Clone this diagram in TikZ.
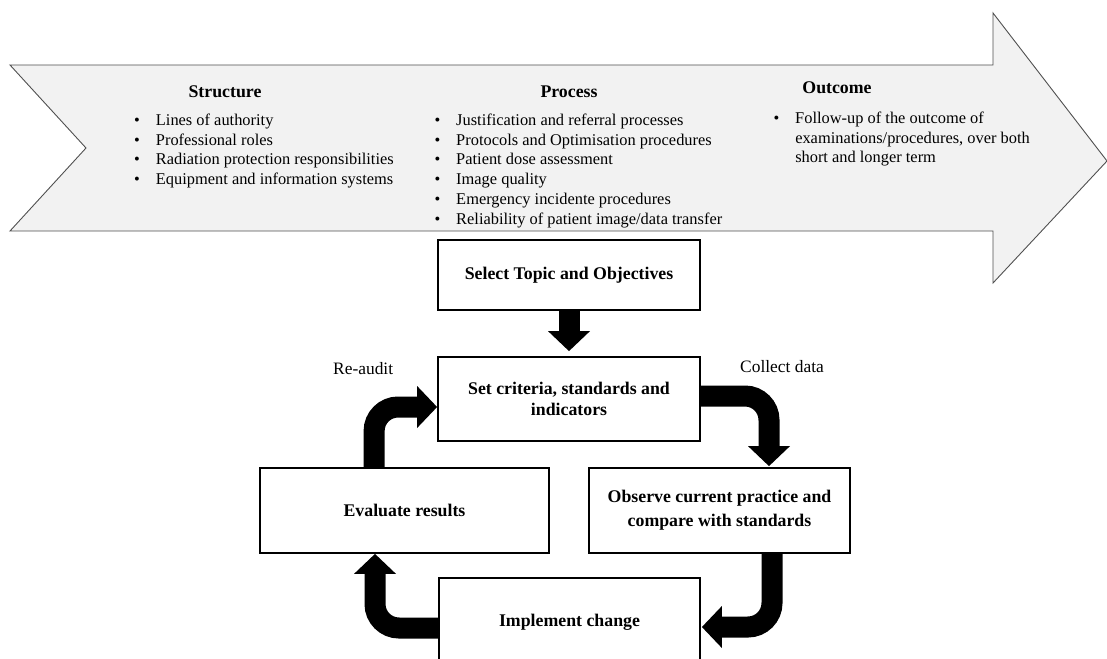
\documentclass[tikz,border=0pt]{standalone}
\usepackage{fontspec}
\setmainfont{Liberation Serif}
\usetikzlibrary{arrows.meta,calc}

\definecolor{bandfill}{HTML}{F2F2F2}
\definecolor{bandline}{HTML}{505050}
\newcommand\blockfont{\fontsize{17.8}{21}\selectfont\bfseries}
\newcommand\headfont{\fontsize{17.8}{21}\selectfont\bfseries}
\newcommand\listfont{\fontsize{16.4}{19.7}\selectfont}
\newcommand\labelfont{\fontsize{17.4}{21}\selectfont}

\pgfdeclarelayer{arrows}
\pgfsetlayers{arrows,main}

\begin{document}
\begin{tikzpicture}[x=1pt,y=-1pt,
  band/.style={draw=bandline, fill=bandfill, line width=0.9pt, line join=miter},
  head/.style={font=\headfont, inner sep=0pt},
  itemlist/.style={font=\listfont, inner sep=0pt, anchor=base west},
  lbl/.style={font=\labelfont, inner sep=0pt, anchor=west},
  stepbox/.style={draw=black, line width=1.8pt, fill=white, align=center,
    font=\blockfont, inner sep=0pt},
  flow/.style={draw=black, line width=21pt, rounded corners=24pt,
    -{Triangle[width=42pt,length=20pt,line width=0pt]}}
]
\useasboundingbox (0,0) rectangle (1107,658);
\clip (0,0) rectangle (1107,658);

% big chevron arrow: structure -> process -> outcome
\draw[band] (10,65) -- (993,65) -- (993,13) -- (1107,161) -- (993,283)
  -- (993,231) -- (10,231) -- (86,148) -- cycle;

\node[head] (hs) at (225,92) {Structure};
\node[head] (hp) at (569,92) {Process};
\node[head] (ho) at (837,88) {Outcome};

\node[itemlist] (ls) at (134,125.5) {\begin{tabular}[t]{@{}l@{\hspace{16pt}}l@{}}
\textbullet & Lines of authority\\
\textbullet & Professional roles\\
\textbullet & Radiation protection responsibilities\\
\textbullet & Equipment and information systems
\end{tabular}};

\node[itemlist] (lp) at (434.3,125.5) {\begin{tabular}[t]{@{}l@{\hspace{16pt}}l@{}}
\textbullet & Justification and referral processes\\
\textbullet & Protocols and Optimisation procedures\\
\textbullet & Patient dose assessment\\
\textbullet & Image quality\\
\textbullet & Emergency incidente procedures\\
\textbullet & Reliability of patient image/data transfer
\end{tabular}};

\node[itemlist] (lo) at (773.3,123.5) {\begin{tabular}[t]{@{}l@{\hspace{16pt}}l@{}}
\textbullet & Follow-up of the outcome of\\
 & examinations/procedures, over both\\
 & short and longer term
\end{tabular}};

% audit cycle
\node[stepbox, minimum width=262pt, minimum height=70pt] (sel) at (569,275)
  {Select Topic and Objectives};
\node[stepbox, minimum width=262pt, minimum height=84pt] (setc) at (569,399)
  {Set criteria, standards and\\indicators};
\node[stepbox, minimum width=289pt, minimum height=85pt] (eval) at (404.5,510.5)
  {Evaluate results};
\node[stepbox, minimum width=261pt, minimum height=85pt, font=\fontsize{17.8}{24}\selectfont\bfseries] (obs) at (719.5,510.5)
  {Observe current practice and\\compare with standards};
\node[stepbox, minimum width=261pt, minimum height=88pt] (impl) at (569.5,622)
  {Implement change};

\node[lbl] (ra) at (333,369) {Re-audit};
\node[lbl] (cd) at (740,367) {Collect data};

\begin{pgfonlayer}{arrows}
  \draw[flow] (sel.south) -- ($(setc.north)+(0,-5)$);
  \draw[flow] ($(setc.east)+(0,-3)$) -| ($(obs.north)+(49.5,-1)$);
  \draw[flow] ($(obs.south)+(52.5,0)$) |- ($(impl.east)+(1,5)$);
  \draw[flow] ($(impl.west)+(0,6)$) -| ($(eval.south)+(-29.5,0)$);
  \draw[flow] ($(eval.north west)+(115,0)$) |- ($(setc.west)+(0,8)$);
\end{pgfonlayer}
\end{tikzpicture}
\end{document}
